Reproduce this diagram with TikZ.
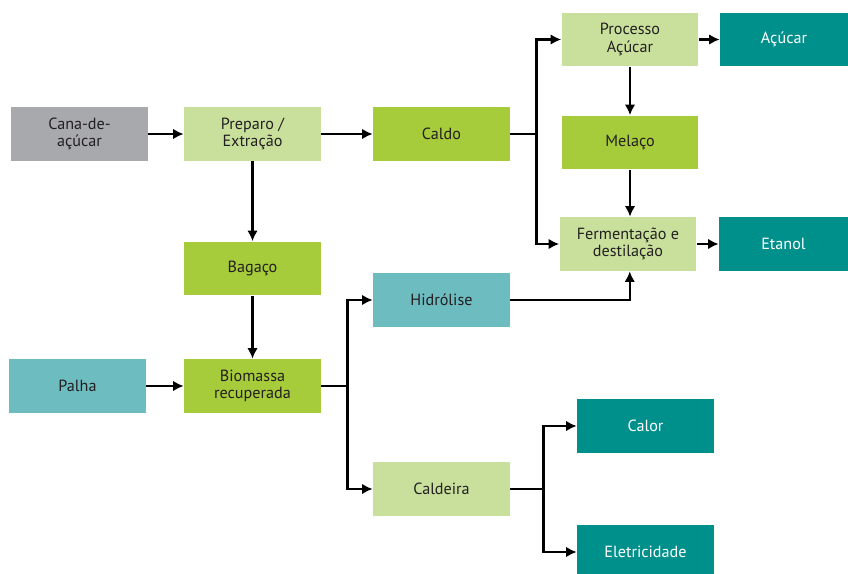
\documentclass[tikz,border=0pt]{standalone}
\usepackage{fontspec}
\setmainfont{PT Sans}
\usepackage{xcolor}
\usetikzlibrary{arrows.meta}

\definecolor{cinza}{HTML}{A7A9AC}
\definecolor{verdeclaro}{HTML}{C9E09D}
\definecolor{verde}{HTML}{A7CC3B}
\definecolor{petroleo}{HTML}{00908C}
\definecolor{turquesa}{HTML}{6DBCC0}
\definecolor{texto}{HTML}{231F20}

\begin{document}
\begin{tikzpicture}[x=0.02cm, y=-0.02cm,
  every node/.style={rectangle, minimum width=2.74cm, minimum height=1.08cm, inner sep=0pt,
    align=center, text=texto, font=\fontsize{9.2}{10}\selectfont},
  etapa/.style={fill=verdeclaro},
  produto/.style={fill=verde},
  materia/.style={fill=turquesa},
  final/.style={fill=petroleo, text=white},
  linha/.style={line width=1.4pt},
  seta/.style={linha, -{Latex[length=6pt, width=6pt]}}]

  \useasboundingbox (0,0) rectangle (848,574);

  % Entrada da cana
  \node[fill=cinza] (cana) at (79.5,134) {Cana-de-\\açúcar};
  \node[etapa] (preparo) at (252.5,134) {Preparo /\\Extração};
  \node[produto] (caldo) at (441.5,134) {Caldo};
  \draw[seta] (cana) -- (preparo);
  \draw[seta] (preparo) -- (caldo);

  % Rota do caldo
  \node[etapa] (processo) at (630,39.5) {Processo\\Açúcar};
  \node[final, minimum width=2.56cm] (acucar) at (784,39.5) {Açúcar};
  \node[produto] (melaco) at (630,142.5) {Melaço};
  \node[etapa] (ferment) at (628,244) {Fermentação e\\destilação};
  \node[final, minimum width=2.58cm] (etanol) at (783.5,244) {Etanol};

  \draw[linha] (caldo.east) -- ++(26,0) coordinate (rcaldo);
  \draw[seta] (rcaldo) |- (processo.west);
  \draw[seta] (rcaldo) |- (ferment.west);
  \draw[seta] (processo) -- (acucar);
  \draw[seta] (processo) -- (melaco);
  \draw[seta] (melaco.south) -- (melaco.south |- ferment.north);
  \draw[seta] (ferment) -- (etanol);

  % Biomassa
  \node[produto] (bagaco) at (252.5,268.5) {Bagaço};
  \node[materia] (palha) at (77.5,386) {Palha};
  \node[produto] (biomassa) at (252.5,386) {Biomassa\\recuperada};
  \draw[seta] (preparo) -- (bagaco);
  \draw[seta] (bagaco) -- (biomassa);
  \draw[seta] (palha) -- (biomassa);

  \node[materia] (hidrolise) at (441.5,300) {Hidrólise};
  \node[etapa] (caldeira) at (441.5,489) {Caldeira};
  \draw[linha] (biomassa.east) -- ++(26,0) coordinate (rbio);
  \draw[seta] (rbio) |- (hidrolise.west);
  \draw[seta] (rbio) |- (caldeira.west);
  \draw[seta] (hidrolise.east) -| ([xshift=1]ferment.south);

  % Energia
  \node[final] (calor) at (645.5,426) {Calor};
  \node[final] (eletric) at (645.5,552) {Eletricidade};
  \draw[linha] (caldeira.east) -- ++(33,0) coordinate (rcaldeira);
  \draw[seta] (rcaldeira) |- (calor.west);
  \draw[seta] (rcaldeira) |- (eletric.west);
\end{tikzpicture}
\end{document}
